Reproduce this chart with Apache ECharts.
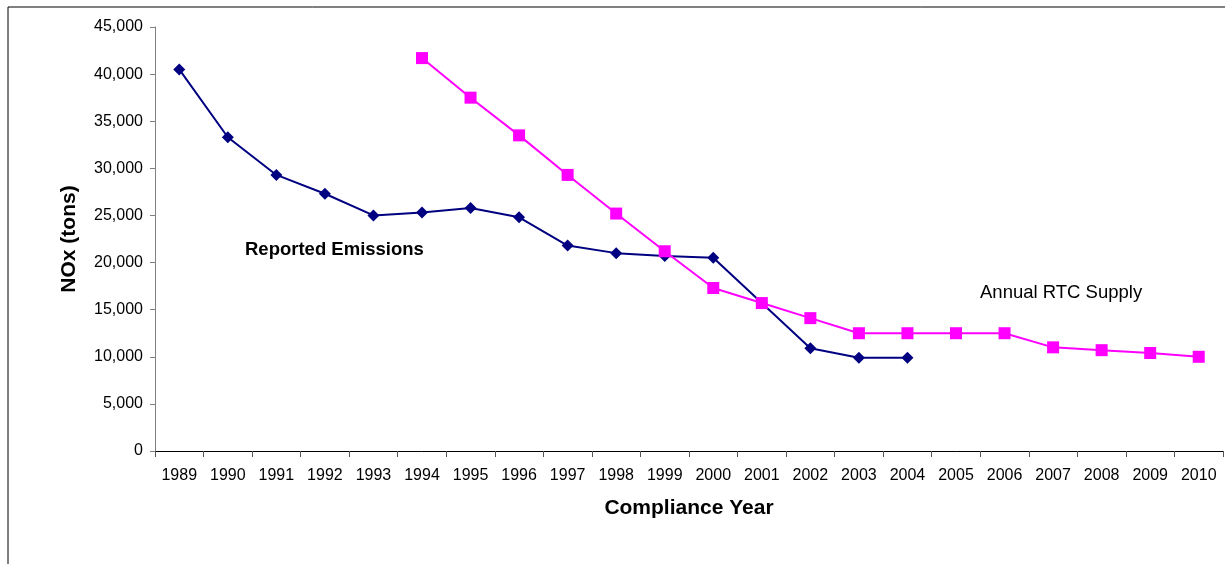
<!DOCTYPE html>
<html>
<head>
<meta charset="utf-8">
<script src="https://cdn.jsdelivr.net/npm/echarts@6/dist/echarts.min.js"></script>
<style>
  html, body { margin: 0; padding: 0; background: #fff; }
  #chart { width: 1225px; height: 564px; }
</style>
</head>
<body>
<div id="chart"></div>
<script>
// Compliance years on the category axis
const years = ['1989','1990','1991','1992','1993','1994','1995','1996','1997','1998','1999',
               '2000','2001','2002','2003','2004','2005','2006','2007','2008','2009','2010'];

// Reported NOx emissions (tons), 1989-2004
const reportedEmissions = [40500, 33300, 29300, 27300, 25000, 25300, 25800, 24800, 21800, 21000,
                           20700, 20500, 15700, 10900, 9900, 9900, null, null, null, null, null, null];

// Annual RTC supply (tons), 1994-2010
const rtcSupply = [null, null, null, null, null, 41700, 37500, 33500, 29300, 25200, 21200,
                   17300, 15700, 14100, 12500, 12500, 12500, 12500, 11000, 10700, 10400, 10000];

// Y axis range
const yMin = 0, yMax = 45000, yStep = 5000;

const font = 'Liberation Sans, Arial, sans-serif';
const chart = echarts.init(document.getElementById('chart'), null, { renderer: 'canvas' });

chart.setOption({
  animation: false,
  backgroundColor: '#ffffff',
  grid: { left: 155, right: 2, top: 27, bottom: 113, containLabel: false },
  xAxis: {
    type: 'category',
    data: years,
    boundaryGap: true,
    name: 'Compliance Year',
    nameLocation: 'middle',
    nameGap: 47,
    nameTextStyle: { fontFamily: font, fontSize: 21, fontWeight: 'bold', color: '#000' },
    axisLine: { lineStyle: { color: '#000', width: 1 } },
    axisTick: { show: true, alignWithLabel: false, length: 6, lineStyle: { color: '#555' } },
    axisLabel: { fontFamily: font, fontSize: 16, color: '#000', margin: 17, interval: 0 },
    splitLine: { show: false }
  },
  yAxis: {
    type: 'value',
    min: yMin, max: yMax, interval: yStep,
    name: 'NOx (tons)',
    nameLocation: 'middle',
    nameGap: 75,
    nameRotate: 90,
    nameTextStyle: { fontFamily: font, fontSize: 21, fontWeight: 'bold', color: '#000' },
    axisLine: { show: true, lineStyle: { color: '#808080', width: 1 } },
    axisTick: { show: true, inside: false, length: 5, lineStyle: { color: '#808080' } },
    axisLabel: {
      fontFamily: font, fontSize: 16, color: '#000', margin: 12,
      formatter: v => v.toLocaleString('en-US')
    },
    splitLine: { show: false }
  },
  series: [
    {
      name: 'Reported Emissions',
      type: 'line',
      data: reportedEmissions,
      connectNulls: false,
      symbol: 'diamond',
      symbolSize: 12,
      itemStyle: { color: '#000080' },
      lineStyle: { color: '#000080', width: 2 },
      z: 2
    },
    {
      name: 'Annual RTC Supply',
      type: 'line',
      data: rtcSupply,
      connectNulls: false,
      symbol: 'rect',
      symbolSize: 12,
      itemStyle: { color: '#ff00ff' },
      lineStyle: { color: '#ff00ff', width: 2 },
      z: 3
    }
  ],
  graphic: [
    {
      type: 'rect',
      shape: { x: 8, y: 7, width: 1240, height: 600 },
      style: { fill: 'none', stroke: '#000', lineWidth: 1 },
      silent: true, z: -1
    },
    {
      type: 'text', left: 245, top: 240,
      style: { text: 'Reported Emissions', font: 'bold 18.5px ' + font, fill: '#000' }
    },
    {
      type: 'text', left: 980, top: 283,
      style: { text: 'Annual RTC Supply', font: '18.5px ' + font, fill: '#000' }
    }
  ]
});
</script>
</body>
</html>
